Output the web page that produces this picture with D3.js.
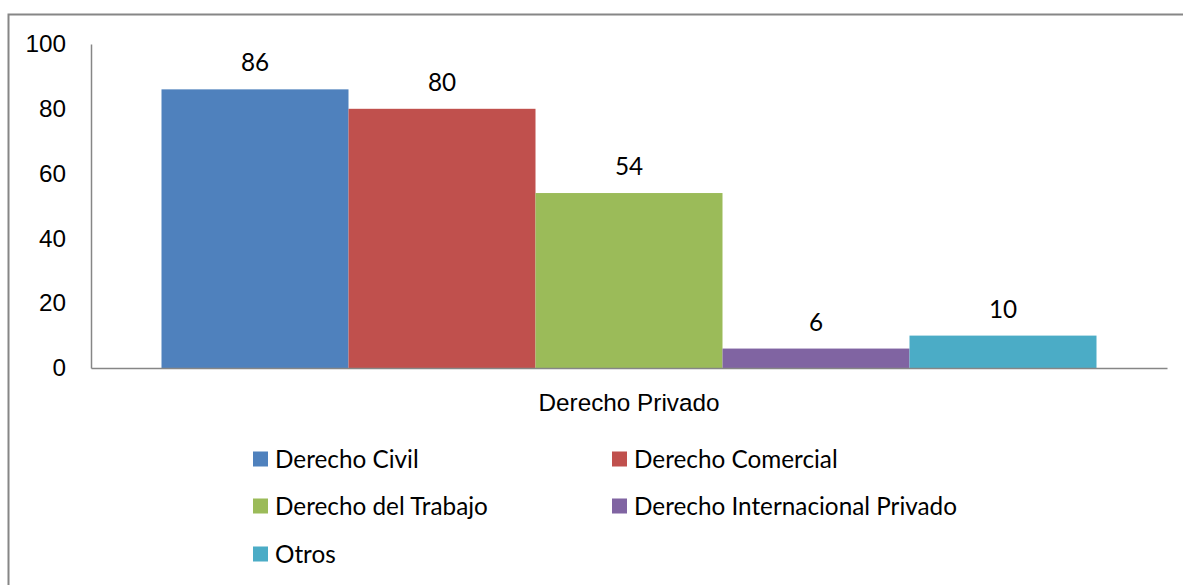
<!DOCTYPE html>
<html>
<head>
<meta charset="utf-8">
<script src="https://cdn.jsdelivr.net/npm/d3@7"></script>
<style>
  body { margin: 0; background: #fff; }
  svg { display: block; font-family: Lato, "Open Sans", sans-serif; }
</style>
</head>
<body>
<svg id="chart" width="1183" height="585"></svg>
<script>
const categories = ["Derecho Civil", "Derecho Comercial", "Derecho del Trabajo", "Derecho Internacional Privado", "Otros"];
const values = [86, 80, 54, 6, 10];
const colors = ["#4f81bd", "#c0504d", "#9bbb59", "#8064a2", "#4bacc6"];
const groupLabel = "Derecho Privado";
const yTicks = [0, 20, 40, 60, 80, 100];

const svg = d3.select("#chart");
const fontSize = 24.3;

// outer frame (runs off the right and bottom edge)
svg.append("rect")
    .attr("x", 8.5).attr("y", 14.5)
    .attr("width", 1200).attr("height", 600)
    .attr("fill", "none")
    .attr("stroke", "#868686")
    .attr("stroke-width", 2);

const plot = { left: 91, right: 1167, top: 44, bottom: 368 };

const y = d3.scaleLinear().domain([0, 100]).range([plot.bottom, plot.top]);
const group = d3.scaleBand().domain([groupLabel]).range([plot.left, plot.right]).paddingOuter(0.0754);
const x = d3.scaleBand().domain(categories).range([group(groupLabel), group(groupLabel) + group.bandwidth()]);

// bars
svg.selectAll("rect.bar")
    .data(values)
    .join("rect")
    .attr("class", "bar")
    .attr("x", (d, i) => x(categories[i]))
    .attr("y", d => y(d))
    .attr("width", x.bandwidth())
    .attr("height", d => y(0) - y(d))
    .attr("fill", (d, i) => colors[i]);

// value labels
svg.selectAll("text.val")
    .data(values)
    .join("text")
    .attr("class", "val")
    .attr("x", (d, i) => x(categories[i]) + x.bandwidth() / 2)
    .attr("y", d => y(d) - 18)
    .attr("text-anchor", "middle")
    .attr("font-size", fontSize)
    .attr("fill", "#000")
    .text(d => d);

// axes
const yAxis = d3.axisLeft(y).tickValues(yTicks).tickSize(0).tickPadding(25);
const yg = svg.append("g").attr("transform", `translate(${plot.left},0)`).call(yAxis);
yg.select(".domain").attr("stroke", "#868686").attr("stroke-width", 1.5);
yg.selectAll("text").attr("font-size", fontSize).attr("fill", "#000").attr("font-family", "inherit");

const xAxis = d3.axisBottom(group).tickSize(0).tickPadding(26);
const xg = svg.append("g").attr("transform", `translate(0,${plot.bottom})`).call(xAxis);
xg.select(".domain").attr("stroke", "#868686").attr("stroke-width", 1.5);
xg.selectAll("text").attr("font-size", fontSize).attr("fill", "#000").attr("font-family", "inherit");

// legend
const legCols = [253, 612];
const legRows = [459, 506, 554];
const legend = svg.selectAll("g.leg")
    .data(categories)
    .join("g")
    .attr("class", "leg")
    .attr("transform", (d, i) => `translate(${legCols[i % 2]},${legRows[Math.floor(i / 2)]})`);

legend.append("rect")
    .attr("x", 0).attr("y", -7.5)
    .attr("width", 15).attr("height", 15)
    .attr("fill", (d, i) => colors[i]);

legend.append("text")
    .attr("x", 22).attr("y", 0)
    .attr("dy", "0.35em")
    .attr("font-size", fontSize)
    .attr("fill", "#000")
    .text(d => d);
</script>
</body>
</html>
